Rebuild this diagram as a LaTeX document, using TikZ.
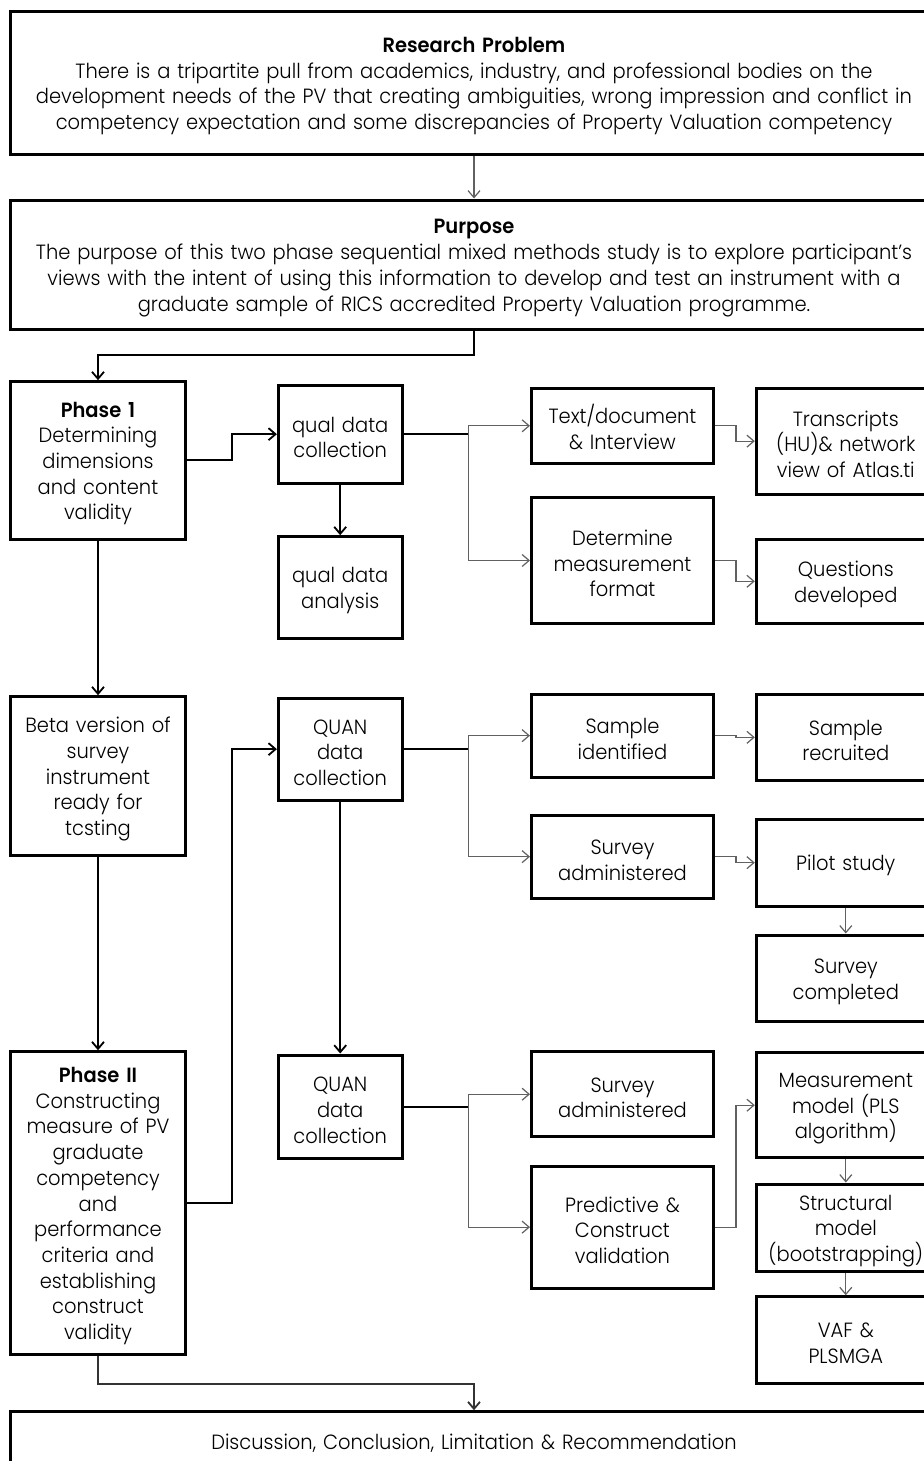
\documentclass[tikz,border=0pt]{standalone}
\usepackage{fontspec}
\setmainfont{Poppins Light}[FakeStretch=0.945, BoldFont={Poppins SemiBold}]
\usetikzlibrary{arrows.meta,calc}
\definecolor{conn}{gray}{0.38}
\begin{document}
\begin{tikzpicture}[x=0.5pt,y=-0.5pt,
  box/.style={draw=black, line width=1.5pt, inner sep=0pt, align=center,
    font=\fontsize{10.3}{12.85}\selectfont,
    execute at begin node={\noindent\rule{0pt}{10.8pt}}},
  rect/.style n args={4}{at={({(#1+#3)/2},{(#2+#4)/2})},
    text width={(#3-#1)*0.5pt},
    minimum width={(#3-#1)*0.5pt}, minimum height={(#4-#2)*0.5pt}},
  blk/.style={draw=black, line width=0.9pt},
  gry/.style={draw=conn, line width=0.6pt},
  tip/.style={-{Straight Barb[length=3.5pt,width=6pt]}},
]
\useasboundingbox (0,0) rectangle (923,1461);

% top boxes
\node[box, rect={10.6}{11.7}{937.4}{154}] (rp) {\textbf{Research Problem}\\There is a tripartite pull from academics, industry, and professional bodies on the\\development needs of the PV that creating ambiguities, wrong impression and conflict in\\competency expectation and some discrepancies of Property Valuation competency};
\node[box, rect={10.6}{200}{937.4}{329}] (pu) {\textbf{Purpose}\\The purpose of this two phase sequential mixed methods study is to explore participant’s\\views with the intent of using this information to develop and test an instrument with a\\graduate sample of RICS accredited Property Valuation programme.};

% column 1
\node[box, rect={10.6}{381.7}{185.4}{539}] (p1) {\textbf{Phase 1}\\Determining\\dimensions\\and content\\validity};
\node[box, rect={10.6}{696.7}{185.4}{855.7}] (beta) {Beta version of\\survey\\instrument\\ready for\\tcsting};
\node[box, rect={10.6}{1051.7}{185.4}{1354}] (p2) {\textbf{Phase II}\\Constructing\\measure of PV\\graduate\\competency\\and\\performance\\criteria and\\establishing\\construct\\validity};

% column 2
\node[box, rect={278.4}{385}{402}{483.3}] (qc) {qual data\\collection};
\node[box, rect={278.4}{536.7}{402}{638.3}] (qa) {qual data\\analysis};
\node[box, rect={278.4}{698.3}{402}{800}] (q1) {QUAN\\data\\collection};
\node[box, rect={278.4}{1055}{402}{1158.3}] (q2) {QUAN\\data\\collection};

% column 3
\node[box, rect={531.5}{388.3}{713.4}{463.3}] (td) {Text/document\\\& Interview};
\node[box, rect={531.5}{497.7}{713.4}{623.3}] (dm) {Determine\\measurement\\format};
\node[box, rect={531.5}{694}{713.4}{777.3}] (si) {Sample\\identified};
\node[box, rect={531.5}{815}{713.4}{898.3}] (sa) {Survey\\administered};
\node[box, rect={531.5}{1051.7}{713.4}{1136.7}] (sb) {Survey\\administered};
\node[box, rect={531.5}{1166}{713.4}{1288.3}] (pc) {Predictive \&\\Construct\\validation};

% column 4
\node[box, rect={756.3}{388.3}{935.3}{494}] (tr) {Transcripts\\(HU)\& network\\view of Atlas.ti};
\node[box, rect={756.3}{539.3}{935.3}{623.3}] (qd) {Questions\\developed};
\node[box, rect={756.3}{694}{935.3}{780.7}] (sr) {Sample\\recruited};
\node[box, rect={756.3}{819.3}{935.3}{906}] (ps) {Pilot study};
\node[box, rect={756.3}{935}{935.3}{1021.7}] (sc) {Survey\\completed};
\node[box, rect={756.3}{1052.7}{935.3}{1157.7}] (mm) {Measurement\\model (PLS\\algorithm)};
\node[box, rect={756.3}{1184}{935.3}{1271.7}] (sm) {Structural\\model\\(bootstrapping)};
\node[box, rect={756.3}{1296.7}{935.3}{1383.3}] (vf) {VAF \&\\PLSMGA};

% bottom
\node[box, rect={10.6}{1411.7}{937.4}{1468.3}] (dc) {Discussion, Conclusion, Limitation \& Recommendation};

% branch points
\coordinate (b1) at ($(qc.east)+(64.7,0)$);
\coordinate (b2) at ($(q1.east)+(64.7,0)$);
\coordinate (b3) at ($(q2.east)+(64.7,0)$);

% connectors
\draw[gry, tip] (rp) -- (pu);
\draw[blk, tip] (pu.south) -- ++(0,24.5) -| (p1.north);
\draw[blk, tip] (p1.east) -- ++(45.3,0) |- (qc.west);
\draw[blk, tip] (qc) -- (qa);
\draw[blk] (qc.east) -- (b1);
\draw[gry, tip] (b1) |- (td.west);
\draw[gry, tip] (b1) |- (dm.west);
\draw[gry, tip] (td.east) -- ++(21.1,0) |- (tr.west);
\draw[gry, tip] (dm.east) -- ++(21.1,0) |- (qd.west);

\draw[blk, tip] (p1) -- (beta);
\draw[blk, tip] (beta) -- (p2);
\draw[blk, tip] (p2.east) -- ++(45.3,0) |- (q1.west);
\draw[blk] (q1.east) -- (b2);
\draw[gry, tip] (b2) |- (si.west);
\draw[gry, tip] (b2) |- (sa.west);
\draw[gry, tip] (si.east) -- ++(21.1,0) |- (sr.west);
\draw[gry, tip] (sa.east) -- ++(21.1,0) |- (ps.west);
\draw[gry, tip] (ps) -- (sc);

\draw[blk, tip] (q1) -- (q2);
\draw[blk] (q2.east) -- (b3);
\draw[gry, tip] (b3) |- (sb.west);
\draw[gry, tip] (b3) |- (pc.west);
\draw[gry, tip] (pc.east) -- ++(21.1,0) |- (mm.west);
\draw[gry, tip] (mm) -- (sm);
\draw[gry, tip] (sm) -- (vf);

\draw[blk, draw=black!80, tip] (p2.south) -- ++(0,28.3) -| (dc.north);
\end{tikzpicture}
\end{document}
